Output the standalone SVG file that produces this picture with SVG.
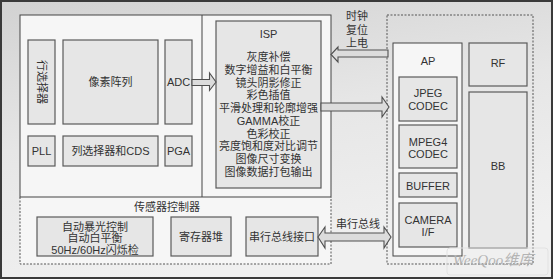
<svg xmlns="http://www.w3.org/2000/svg" width="553" height="279" viewBox="0 0 553 279">
<defs>
<linearGradient id="bg" x1="0" y1="0" x2="0.3" y2="1">
<stop offset="0" stop-color="#d2d2d2"/>
<stop offset="0.5" stop-color="#e6e6e6"/>
<stop offset="1" stop-color="#f0f0f0"/>
</linearGradient>
<style>
.blk{fill:#e6e6e6;stroke:#5a5a5a;stroke-width:1.2}
.pane{fill:#f6f6f6;stroke:#444;stroke-width:1}
.dash{fill:none;stroke:#555;stroke-width:1;stroke-dasharray:2 1.5}
.arr{fill:#dcdcdc;stroke:#505050;stroke-width:1.1;stroke-linejoin:miter}
text{font-family:"Liberation Sans","Noto Sans CJK SC",sans-serif;font-size:11px;fill:#333;text-anchor:middle}
.isp{font-size:11px}
</style>
</defs>
<rect x="1" y="1" width="551" height="277" fill="url(#bg)" stroke="#3a3a3a" stroke-width="2"/>

<g id="sensor-chip">
<rect x="20" y="197" width="311" height="67" fill="#f6f6f6"/>
<rect class="pane" x="20" y="15" width="311" height="182"/>
<line x1="202" y1="15" x2="202" y2="197" stroke="#444" stroke-width="1"/>
<path class="dash" d="M20 197 V264 H331 V197"/>
</g>

<g id="row-select"><rect class="blk" x="28" y="40" width="27" height="84"/><text transform="translate(41.5 82) rotate(90)" y="4">行选择器</text></g>
<g id="pixel-array"><rect class="blk" x="63" y="40" width="95" height="84"/><text x="110.5" y="86">像素阵列</text></g>
<g id="adc"><rect class="blk" x="165" y="40" width="27" height="84"/><text x="178.5" y="86">ADC</text></g>
<g id="pll"><rect class="blk" x="28" y="136" width="27" height="30"/><text x="41.5" y="155">PLL</text></g>
<g id="col-select"><rect class="blk" x="63" y="136" width="95" height="30"/><text x="110.5" y="155">列选择器和CDS</text></g>
<g id="pga"><rect class="blk" x="165" y="136" width="27" height="30"/><text x="178.5" y="155">PGA</text></g>

<g id="isp">
<rect class="blk" x="216" y="21" width="105" height="167"/>
<text class="isp" x="268.5" y="38">ISP</text>
<text class="isp" x="268.5" y="61">灰度补偿</text>
<text class="isp" x="268.5" y="73.75">数字增益和白平衡</text>
<text class="isp" x="268.5" y="86.5">镜头阴影修正</text>
<text class="isp" x="268.5" y="99.25">彩色插值</text>
<text class="isp" x="268.5" y="112">平滑处理和轮廓增强</text>
<text class="isp" x="268.5" y="124.75">GAMMA校正</text>
<text class="isp" x="268.5" y="137.5">色彩校正</text>
<text class="isp" x="268.5" y="150.25">亮度饱和度对比调节</text>
<text class="isp" x="268.5" y="163">图像尺寸变换</text>
<text class="isp" x="268.5" y="175.75">图像数据打包输出</text>
</g>

<g id="sensor-controller">
<text x="167" y="211">传感器控制器</text>
</g>
<g id="auto-ctrl"><rect class="blk" x="37" y="217" width="116" height="39"/>
<text x="95" y="231">自动暴光控制</text><text x="95" y="242">自动白平衡</text><text x="95" y="254">50Hz/60Hz闪烁检</text></g>
<g id="regs"><rect class="blk" x="171" y="217" width="60" height="39"/><text x="201" y="241">寄存器堆</text></g>
<g id="serial-if"><rect class="blk" x="246" y="217" width="72" height="39"/><text x="282" y="241">串行总线接口</text></g>

<g id="host">
<rect class="dash" x="387" y="15" width="146" height="249"/>
</g>
<g id="ap"><rect class="pane" x="393" y="43" width="69" height="213" stroke="#5a5a5a"/><text x="428" y="65">AP</text></g>
<g id="jpeg"><rect class="blk" x="399" y="77" width="58" height="44"/><text x="428" y="97">JPEG</text><text x="428" y="110">CODEC</text></g>
<g id="mpeg4"><rect class="blk" x="399" y="125" width="58" height="43"/><text x="428" y="146">MPEG4</text><text x="428" y="158">CODEC</text></g>
<g id="buffer"><rect class="blk" x="399" y="173" width="58" height="24"/><text x="428" y="190">BUFFER</text></g>
<g id="camera-if"><rect class="blk" x="399" y="203" width="58" height="44"/><text x="428" y="224">CAMERA</text><text x="428" y="236">I/F</text></g>
<g id="rf"><rect class="blk" x="469" y="43" width="58" height="43"/><text x="498" y="67">RF</text></g>
<g id="bb"><rect class="blk" x="469" y="92" width="58" height="156"/><text x="498" y="170">BB</text></g>

<g id="connectors">
<path class="arr" d="M192 79.5 H209.5 V73 L216 82 L209.5 90.5 V85.5 H192 Z"/>
<path class="arr" d="M388 50 H338 V47 L331 54.5 L338 62 V57 H388 Z"/>
<path class="arr" d="M321 103 H382 V97 L389 107 L382 117 V111 H321 Z"/>
<path class="arr" d="M318 237 L325 227 V233 H384 V227 L391 237 L384 248 V241 H325 V248 Z"/>
<text x="357" y="20">时钟</text>
<text x="357" y="34">复位</text>
<text x="357" y="47">上电</text>
<text x="358" y="228">串行总线</text>
</g>

<g id="watermark">
<rect x="447" y="248" width="101" height="27" rx="3" fill="none" stroke="#e2e2e2" stroke-width="1"/>
<text x="493" y="265" style="font-size:15px;fill:#b4b4b4;font-style:italic;font-family:'Liberation Serif','Noto Sans CJK SC',serif">WeeQoo维库</text>
</g>
</svg>
